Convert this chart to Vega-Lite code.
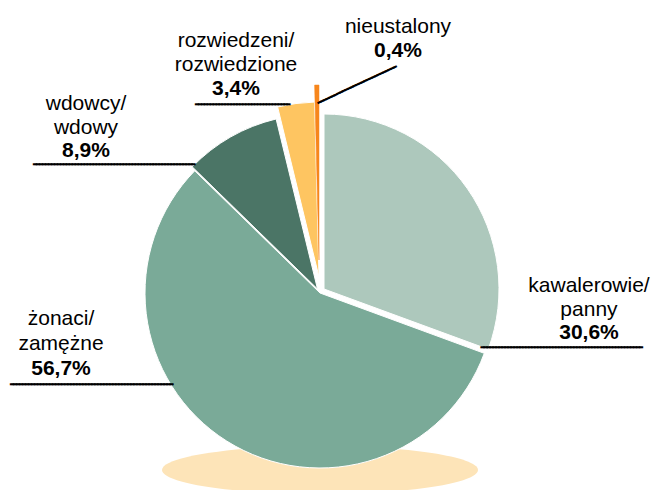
{
  "$schema": "https://vega.github.io/schema/vega-lite/v6.json",
  "width": 640,
  "height": 396,
  "autosize": {"type": "none"},
  "padding": {"left": 0, "top": 94, "right": 12, "bottom": 0},
  "background": "#ffffff",
  "config": {"view": {"stroke": null}},
  "data": {
    "values": [
      {"idx": 1, "cat": "kawalerowie/panny", "lines": "kawalerowie/\npanny", "value": 30.6, "pct": "30,6%"},
      {"idx": 2, "cat": "żonaci/zamężne", "lines": "żonaci/\nzamężne", "value": 56.7, "pct": "56,7%"},
      {"idx": 3, "cat": "wdowcy/wdowy", "lines": "wdowcy/\nwdowy", "value": 8.9, "pct": "8,9%"},
      {"idx": 4, "cat": "rozwiedzeni/rozwiedzione", "lines": "rozwiedzeni/\nrozwiedzione", "value": 3.4, "pct": "3,4%"},
      {"idx": 5, "cat": "nieustalony", "lines": "nieustalony", "value": 0.4, "pct": "0,4%"}
    ]
  },
  "transform": [
    {"stack": "value", "groupby": [], "sort": [{"field": "idx", "order": "ascending"}], "as": ["start", "end"]}
  ],
  "layer": [
    {
      "transform": [{"filter": "datum.idx == 1"}],
      "mark": {"type": "point", "shape": "M-1,0A1,0.152,0,1,1,1,0A1,0.152,0,1,1,-1,0Z", "size": 99856, "filled": true, "fill": "#fde4b8", "opacity": 1, "strokeWidth": 0, "yOffset": 178},
      "encoding": {}
    },
    {
      "transform": [{"filter": "datum.idx == 1"}],
      "layer": [
        {"mark": {"type": "arc", "radius": 175, "xOffset": 4, "yOffset": -3, "stroke": "#ffffff", "strokeWidth": 1},
         "encoding": {
           "theta": {"field": "start", "type": "quantitative", "scale": {"domain": [0, 100], "range": [0, 6.283185307179586]}},
           "theta2": {"field": "end"},
           "color": {"field": "cat", "type": "nominal", "legend": null, "scale": {"domain": ["kawalerowie/panny", "żonaci/zamężne", "wdowcy/wdowy", "rozwiedzeni/rozwiedzione", "nieustalony"], "range": ["#adc8bc", "#7aaa98", "#4b7566", "#fec561", "#f7861c"]}}
         }},
        {"mark": {"type": "text", "text": "━━━━━━━━━━━━━━━━━━━━━━━━━━━━━━━━━━━━━━━━━━━━━━━━━━━━━━", "radius": 175, "dx": -3.3, "dy": -4.1, "align": "left", "baseline": "middle", "font": "DejaVu Sans Mono", "fontSize": 4.98, "color": "#000000", "stroke": "#000000", "strokeWidth": 1.2},
         "encoding": {"theta": {"field": "end", "type": "quantitative"}}},
        {"mark": {"type": "text", "radius": 175, "dx": 104.7, "dy": -60.3, "align": "center", "baseline": "alphabetic", "font": "Liberation Sans", "fontSize": 21, "lineBreak": "\n", "lineHeight": 23.5, "color": "#000000"},
         "encoding": {"theta": {"field": "end", "type": "quantitative"}, "text": {"field": "lines"}}},
        {"mark": {"type": "text", "radius": 175, "dx": 104.7, "dy": -13.3, "align": "center", "baseline": "alphabetic", "font": "Liberation Sans", "fontSize": 21, "fontWeight": "bold", "color": "#000000"},
         "encoding": {"theta": {"field": "end", "type": "quantitative"}, "text": {"field": "pct"}}}
      ]
    },
    {
      "transform": [{"filter": "datum.idx == 2"}],
      "layer": [
        {"mark": {"type": "arc", "radius": 175, "xOffset": 0, "yOffset": 1, "stroke": "#ffffff", "strokeWidth": 1},
         "encoding": {
           "theta": {"field": "start", "type": "quantitative"},
           "theta2": {"field": "end"},
           "color": {"field": "cat", "type": "nominal", "legend": null}
         }},
        {"mark": {"type": "text", "text": "━━━━━━━━━━━━━━━━━━━━━━━━━━━━━━━━━━━━━━━━━━━━━━━━━━━━━━", "radius": 175, "dx": -21.7, "dy": 214.5, "align": "right", "baseline": "middle", "font": "DejaVu Sans Mono", "fontSize": 5.01, "color": "#000000", "stroke": "#000000", "strokeWidth": 1.2},
         "encoding": {"theta": {"field": "end", "type": "quantitative"}}},
        {"mark": {"type": "text", "radius": 175, "dx": -133.7, "dy": 155.2, "align": "center", "baseline": "alphabetic", "font": "Liberation Sans", "fontSize": 21, "lineBreak": "\n", "lineHeight": 25, "color": "#000000"},
         "encoding": {"theta": {"field": "end", "type": "quantitative"}, "text": {"field": "lines"}}},
        {"mark": {"type": "text", "radius": 175, "dx": -133.7, "dy": 205.2, "align": "center", "baseline": "alphabetic", "font": "Liberation Sans", "fontSize": 21, "fontWeight": "bold", "color": "#000000"},
         "encoding": {"theta": {"field": "end", "type": "quantitative"}, "text": {"field": "pct"}}}
      ]
    },
    {
      "transform": [{"filter": "datum.idx == 3"}],
      "layer": [
        {"mark": {"type": "arc", "radius": 175, "xOffset": -2.5, "yOffset": -3, "stroke": "#ffffff", "strokeWidth": 1},
         "encoding": {
           "theta": {"field": "start", "type": "quantitative"},
           "theta2": {"field": "end"},
           "color": {"field": "cat", "type": "nominal", "legend": null}
         }},
        {"mark": {"type": "text", "text": "━━━━━━━━━━━━━━━━━━━━━━━━━━━━━━━━━━━━━━━━━━━━━━━━━━━━━━", "radius": 175, "dx": 0.3, "dy": -4.6, "align": "right", "baseline": "middle", "font": "DejaVu Sans Mono", "fontSize": 4.98, "color": "#000000", "stroke": "#000000", "strokeWidth": 1.2},
         "encoding": {"theta": {"field": "start", "type": "quantitative"}}},
        {"mark": {"type": "text", "radius": 175, "dx": -108.7, "dy": -60.3, "align": "center", "baseline": "alphabetic", "font": "Liberation Sans", "fontSize": 21, "lineBreak": "\n", "lineHeight": 24, "color": "#000000"},
         "encoding": {"theta": {"field": "start", "type": "quantitative"}, "text": {"field": "lines"}}},
        {"mark": {"type": "text", "radius": 175, "dx": -108.7, "dy": -12.5, "align": "center", "baseline": "alphabetic", "font": "Liberation Sans", "fontSize": 21, "fontWeight": "bold", "color": "#000000"},
         "encoding": {"theta": {"field": "start", "type": "quantitative"}, "text": {"field": "pct"}}}
      ]
    },
    {
      "transform": [{"filter": "datum.idx == 4"}],
      "layer": [
        {"mark": {"type": "arc", "radius": 175, "xOffset": -1, "yOffset": -15, "stroke": "#ffffff", "strokeWidth": 1},
         "encoding": {
           "theta": {"field": "start", "type": "quantitative"},
           "theta2": {"field": "end"},
           "color": {"field": "cat", "type": "nominal", "legend": null}
         }},
        {"mark": {"type": "text", "text": "━━━━━━━━━━━━━━━━━━━━━━━━━━━━━━━━", "radius": 175, "dx": 11.4, "dy": -16.7, "align": "right", "baseline": "middle", "font": "DejaVu Sans Mono", "fontSize": 4.93, "color": "#000000", "stroke": "#000000", "strokeWidth": 1.2},
         "encoding": {"theta": {"field": "start", "type": "quantitative"}}},
        {"mark": {"type": "text", "radius": 175, "dx": -42.6, "dy": -74.5, "align": "center", "baseline": "alphabetic", "font": "Liberation Sans", "fontSize": 21, "lineBreak": "\n", "lineHeight": 23.8, "color": "#000000"},
         "encoding": {"theta": {"field": "start", "type": "quantitative"}, "text": {"field": "lines"}}},
        {"mark": {"type": "text", "radius": 175, "dx": -42.6, "dy": -27, "align": "center", "baseline": "alphabetic", "font": "Liberation Sans", "fontSize": 21, "fontWeight": "bold", "color": "#000000"},
         "encoding": {"theta": {"field": "start", "type": "quantitative"}, "text": {"field": "pct"}}}
      ]
    },
    {
      "transform": [{"filter": "datum.idx == 5"}],
      "layer": [
        {"mark": {"type": "arc", "radius": 175, "xOffset": -1, "yOffset": -32, "stroke": "#f7861c", "strokeWidth": 0.5},
         "encoding": {
           "theta": {"field": "start", "type": "quantitative"},
           "theta2": {"field": "end"},
           "color": {"field": "cat", "type": "nominal", "legend": null}
         }},
        {"mark": {"type": "text", "text": "━━━━━━━━━━━━━━━━━━━━━━━━━━━━━", "radius": 175, "dx": 4.25, "dy": -12.9, "angle": -25, "align": "left", "baseline": "middle", "font": "DejaVu Sans Mono", "fontSize": 4.95, "color": "#000000", "stroke": "#000000", "strokeWidth": 1.2},
         "encoding": {"theta": {"field": "end", "type": "quantitative"}}},
        {"mark": {"type": "text", "radius": 175, "dx": 78, "dy": -84.5, "align": "center", "baseline": "alphabetic", "font": "Liberation Sans", "fontSize": 21, "lineBreak": "\n", "lineHeight": 24, "color": "#000000"},
         "encoding": {"theta": {"field": "end", "type": "quantitative"}, "text": {"field": "lines"}}},
        {"mark": {"type": "text", "radius": 175, "dx": 78, "dy": -60.5, "align": "center", "baseline": "alphabetic", "font": "Liberation Sans", "fontSize": 21, "fontWeight": "bold", "color": "#000000"},
         "encoding": {"theta": {"field": "end", "type": "quantitative"}, "text": {"field": "pct"}}}
      ]
    }
  ]
}
